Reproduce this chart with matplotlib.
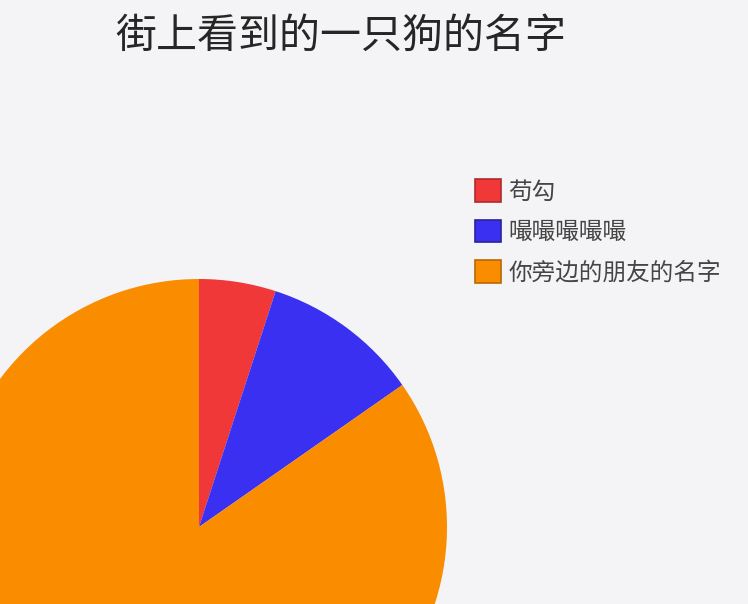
import matplotlib.pyplot as plt
from matplotlib.patches import Patch

plt.rcParams['font.family'] = ['Noto Sans CJK SC', 'DejaVu Sans']

title = '街上看到的一只狗的名字'
labels = ['苟勾', '嘬嘬嘬嘬嘬', '你旁边的朋友的名字']
shares = [5, 10.3, 84.7]
colors = ['#f03838', '#3a30f2', '#fa8c00']
edges = ['#b02a2a', '#2a2399', '#b86800']

bg = '#f4f4f6'
fig = plt.figure(figsize=(7.48, 6.04), dpi=100, facecolor=bg)
ax = fig.add_axes([0, 0, 1, 1])
ax.set_facecolor(bg)

# pixel-like coordinates, y going up
wedges, _ = ax.pie(shares, colors=colors, startangle=90, counterclock=False,
                   center=(199, 77), radius=248,
                   wedgeprops=dict(linewidth=0))
ax.set_xlim(0, 748)
ax.set_ylim(0, 604)
ax.set_aspect('equal')
ax.axis('off')

fig.text(0.456, 0.94, title, ha='center', va='center', fontsize=29.5, color='#262626')

handles = [Patch(facecolor=c, edgecolor=e, linewidth=1.2) for c, e in zip(colors, edges)]
fig.legend(handles, labels, loc='upper left', bbox_to_anchor=(0.635, 0.703),
           frameon=False, fontsize=17, labelcolor='#454545',
           handlelength=1.12, handleheight=1.1, handletextpad=0.3,
           labelspacing=0.68, borderaxespad=0, borderpad=0)

fig.savefig('out.png', dpi=100, facecolor=bg)
